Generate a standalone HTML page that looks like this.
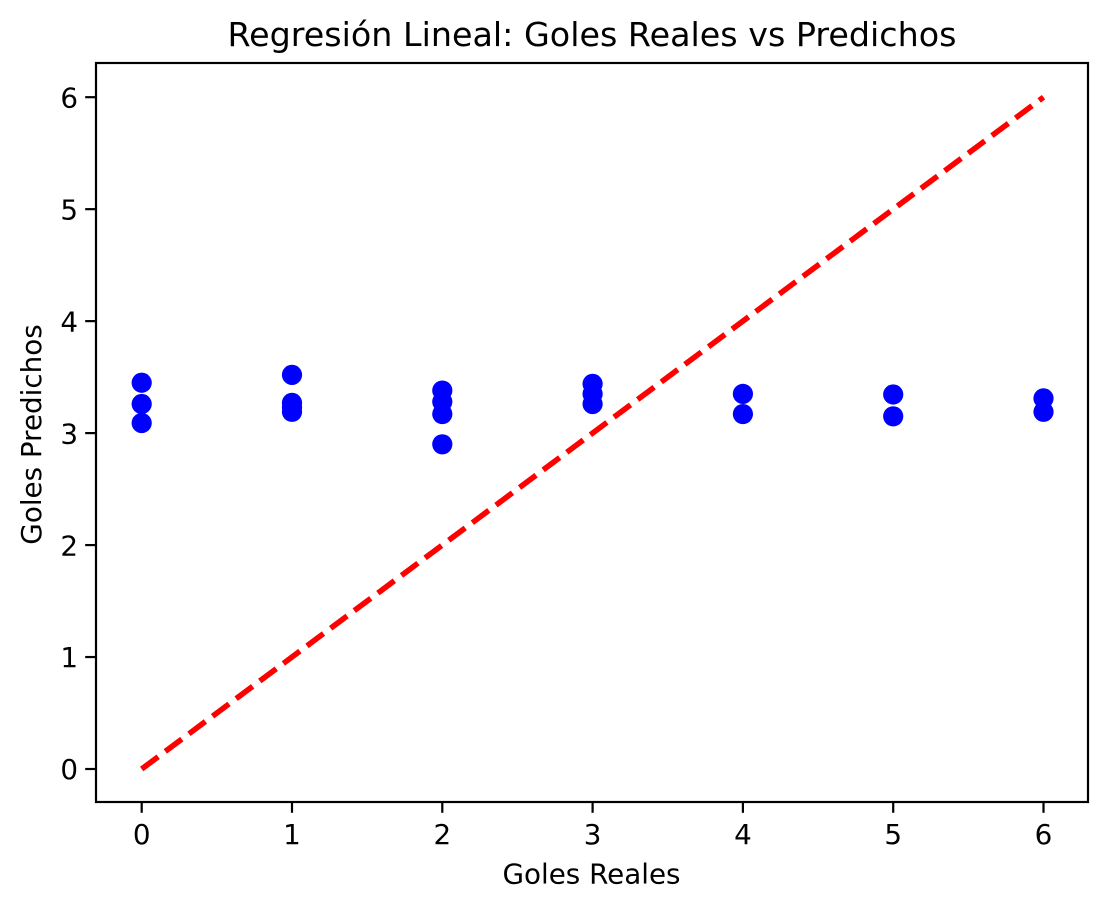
<!DOCTYPE html>
<html lang="es">
<head>
<meta charset="utf-8">
<title>Regresión Lineal: Goles Reales vs Predichos</title>
<style>
  html, body { margin: 0; padding: 0; background: #fff; }
  svg { display: block; }
  text { font-family: "DejaVu Sans", "Liberation Sans", sans-serif; fill: #000; }
</style>
</head>
<body>
<svg id="chart" width="1108" height="909" viewBox="0 0 1108 909" xmlns="http://www.w3.org/2000/svg">
  <rect width="1108" height="909" fill="#fff"></rect>
  <text x="592" y="46" text-anchor="middle" font-size="33.33">Regresión Lineal: Goles Reales vs Predichos</text>
  <text x="591.5" y="883.5" text-anchor="middle" font-size="27.78">Goles Reales</text>
  <text x="0" y="0" transform="translate(41 434.5) rotate(-90)" text-anchor="middle" font-size="27.78">Goles Predichos</text>
  <g id="marks"></g>
  <g id="ticks"></g>
  <rect x="96" y="63" width="992" height="739" fill="none" stroke="#000" stroke-width="2.2"></rect>
</svg>
<script>
const actualGoals = [0, 0, 0, 1, 1, 1, 1, 2, 2, 2, 2, 3, 3, 3, 4, 4, 5, 5, 6, 6];
const predictedGoals = [3.45, 3.26, 3.09, 3.52, 3.27, 3.23, 3.19, 3.38, 3.28, 3.17, 2.90, 3.44, 3.35, 3.26, 3.35, 3.17, 3.345, 3.15, 3.31, 3.19];
const referenceLine = [0, 6];
const xTickValues = [0, 1, 2, 3, 4, 5, 6];
const yTickValues = [0, 1, 2, 3, 4, 5, 6];
const xDomain = [-0.3, 6.3];
const yDomain = [-0.3, 6.3];

const NS = 'http://www.w3.org/2000/svg';
const plot = { left: 96.6, right: 1088.6, top: 63.6, bottom: 802.6 };
const xScale = v => plot.left + (v - xDomain[0]) / (xDomain[1] - xDomain[0]) * (plot.right - plot.left);
const yScale = v => plot.bottom - (v - yDomain[0]) / (yDomain[1] - yDomain[0]) * (plot.bottom - plot.top);

const marks = document.getElementById('marks');
const ticks = document.getElementById('ticks');

actualGoals.forEach((actual, i) => {
  const point = document.createElementNS(NS, 'circle');
  point.setAttribute('cx', xScale(actual));
  point.setAttribute('cy', yScale(predictedGoals[i]));
  point.setAttribute('r', 10.1);
  point.setAttribute('fill', '#0000ff');
  
  
  marks.appendChild(point);
});

const diagonal = document.createElementNS(NS, 'line');
diagonal.setAttribute('x1', xScale(referenceLine[0]));
diagonal.setAttribute('y1', yScale(referenceLine[0]));
diagonal.setAttribute('x2', xScale(referenceLine[1]));
diagonal.setAttribute('y2', yScale(referenceLine[1]));
diagonal.setAttribute('stroke', '#ff0000');
diagonal.setAttribute('stroke-width', 5.56);
diagonal.setAttribute('stroke-dasharray', '20.56 8.89');


marks.appendChild(diagonal);

xTickValues.forEach(value => {
  const x = xScale(value);
  const mark = document.createElementNS(NS, 'line');
  mark.setAttribute('x1', x);
  mark.setAttribute('x2', x);
  mark.setAttribute('y1', 802);
  mark.setAttribute('y2', 812.8);
  mark.setAttribute('stroke', '#000');
  mark.setAttribute('stroke-width', 2.2);
  
  
  ticks.appendChild(mark);
  const label = document.createElementNS(NS, 'text');
  label.setAttribute('x', x);
  label.setAttribute('y', 844);
  label.setAttribute('text-anchor', 'middle');
  label.setAttribute('font-size', 27.78);
  
  
  label.textContent = value;
  ticks.appendChild(label);
});

yTickValues.forEach(value => {
  const y = yScale(value);
  const mark = document.createElementNS(NS, 'line');
  mark.setAttribute('x1', 85.2);
  mark.setAttribute('x2', 96);
  mark.setAttribute('y1', y);
  mark.setAttribute('y2', y);
  mark.setAttribute('stroke', '#000');
  mark.setAttribute('stroke-width', 2.2);
  
  
  ticks.appendChild(mark);
  const label = document.createElementNS(NS, 'text');
  label.setAttribute('x', 78);
  label.setAttribute('y', y + 10.2);
  label.setAttribute('text-anchor', 'end');
  label.setAttribute('font-size', 27.78);
  
  
  label.textContent = value;
  ticks.appendChild(label);
});
</script>
</body>
</html>
